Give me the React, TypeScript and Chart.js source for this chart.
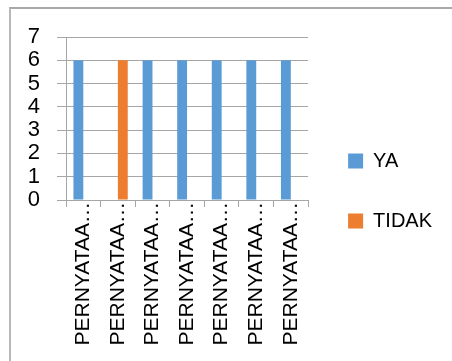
import React, { useEffect, useRef } from "react";
import { Chart, registerables } from "chart.js";

Chart.register(...registerables);

const categories = [
  "PERNYATAA…",
  "PERNYATAA…",
  "PERNYATAA…",
  "PERNYATAA…",
  "PERNYATAA…",
  "PERNYATAA…",
  "PERNYATAA…",
];
const yaValues = [6, 0, 6, 6, 6, 6, 6];
const tidakValues = [0, 6, 0, 0, 0, 0, 0];
const seriesNames = ["YA", "TIDAK"];

const FONT = "'Liberation Sans', Arial, sans-serif";
const GRID = "#a6a6a6";

export default function App() {
  const ref = useRef<HTMLCanvasElement | null>(null);

  useEffect(() => {
    if (!ref.current) return;
    const chart = new Chart(ref.current, {
      type: "bar",
      data: {
        labels: categories,
        datasets: [
          {
            label: seriesNames[0],
            data: yaValues,
            backgroundColor: "#5B9BD5",
            categoryPercentage: 0.57,
            barPercentage: 1,
          },
          {
            label: seriesNames[1],
            data: tidakValues,
            backgroundColor: "#ED7D31",
            categoryPercentage: 0.57,
            barPercentage: 1,
          },
        ],
      },
      options: {
        responsive: false,
        animation: false,
        layout: { padding: { top: 37, bottom: 16, left: 0, right: 10 } },
        plugins: {
          tooltip: { enabled: false },
          legend: {
            position: "right",
            maxWidth: 200,
            labels: {
              boxWidth: 15,
              boxHeight: 15,
              padding: 40,
              color: "#000",
              font: { family: FONT, size: 20 },
            },
          } as any,
        },
        scales: {
          x: {
            afterFit: (s: any) => {
              s.height = 145;
            },
            grid: {
              display: true,
              offset: true,
              drawOnChartArea: false,
              tickLength: 7,
              color: GRID,
            },
            border: { display: true, color: GRID },
            ticks: {
              autoSkip: false,
              minRotation: 90,
              maxRotation: 90,
              padding: -5,
              color: "#000",
              font: { family: FONT, size: 21 },
            },
          },
          y: {
            min: 0,
            max: 7,
            afterFit: (s: any) => {
              s.width = 66;
            },
            grid: { color: GRID, tickLength: 9 },
            border: { display: true, color: GRID },
            ticks: {
              stepSize: 1,
              autoSkip: false,
              padding: 17,
              color: "#000",
              font: { family: FONT, size: 22 },
            },
          },
        },
      },
    });
    return () => chart.destroy();
  }, []);

  return (
    <div style={{ position: "absolute", left: 0, top: 0, width: 452, height: 361, overflow: "hidden", background: "#fff" }}>
      <div
        style={{
          position: "absolute",
          left: 9,
          top: 7,
          width: 480,
          height: 400,
          borderTop: "2px solid #a8a8a8",
          borderLeft: "2px solid #b8b8b8",
          boxSizing: "border-box",
        }}
      />
      <canvas ref={ref} width={452} height={361} style={{ position: "absolute", left: 0, top: 0 }} />
    </div>
  );
}
